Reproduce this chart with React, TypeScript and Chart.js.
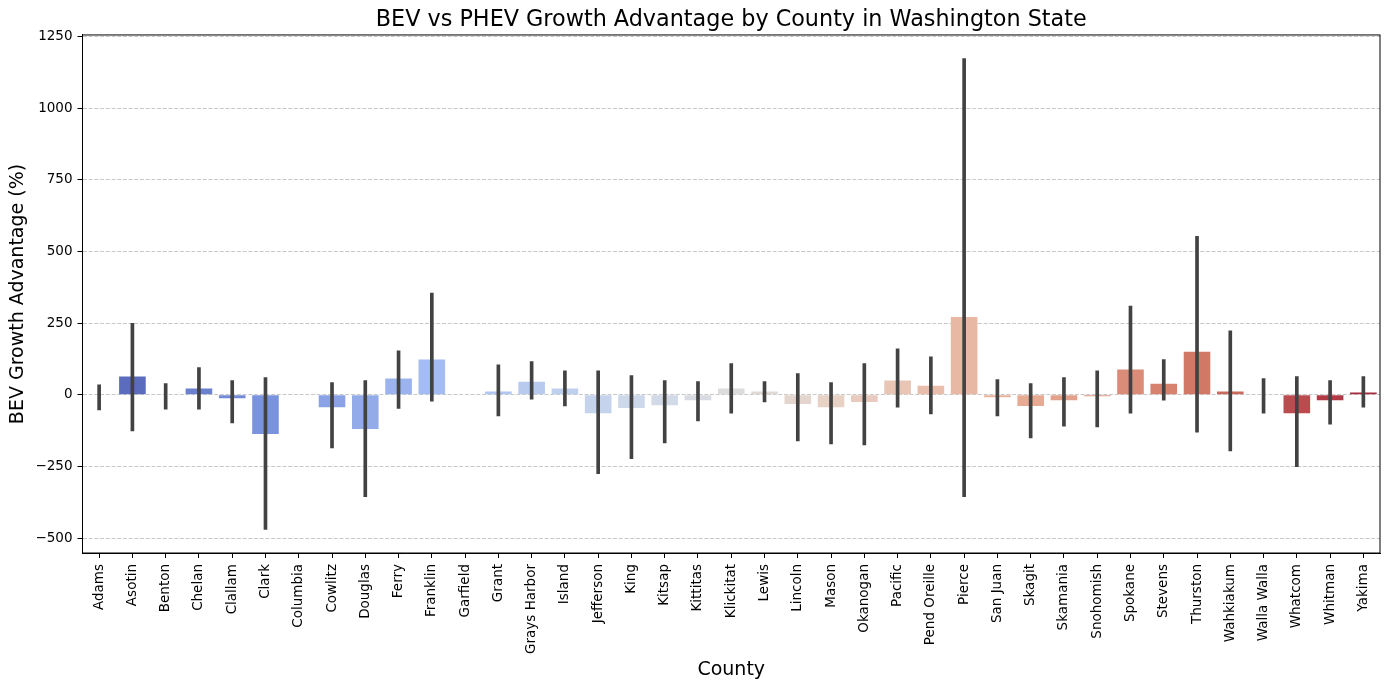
import React, { useEffect, useRef } from "react";
import { Chart, registerables } from "chart.js";

Chart.register(...registerables);

const counties = [
  "Adams", "Asotin", "Benton", "Chelan", "Clallam", "Clark", "Columbia", "Cowlitz", "Douglas", "Ferry",
  "Franklin", "Garfield", "Grant", "Grays Harbor", "Island", "Jefferson", "King", "Kitsap", "Kittitas", "Klickitat",
  "Lewis", "Lincoln", "Mason", "Okanogan", "Pacific", "Pend Oreille", "Pierce", "San Juan", "Skagit", "Skamania",
  "Snohomish", "Spokane", "Stevens", "Thurston", "Wahkiakum", "Walla Walla", "Whatcom", "Whitman", "Yakima",
];

const advantage: (number | null)[] = [
  2, 64, 0, 22, -12, -137, null, -43, -119, 57,
  123, null, 12, 46, 22, -64, -46, -36, -19, 22,
  12, -32, -43, -25, 50, 32, 272, -8, -39, -19,
  -5, 88, 39, 150, 12, 0, -64, -19, 8,
];

const ciLow: (number | null)[] = [
  -53, -126, -50, -50, -98, -470, null, -185, -355, -47,
  -22, null, -74, -15, -39, -275, -223, -168, -91, -64,
  -25, -161, -171, -175, -43, -67, -355, -74, -150, -109,
  -112, -64, -19, -130, -196, -64, -251, -102, -43,
];

const ciHigh: (number | null)[] = [
  35, 250, 39, 95, 50, 60, null, 43, 50, 154,
  355, null, 105, 116, 84, 84, 67, 50, 46, 109,
  46, 74, 43, 109, 161, 133, 1174, 53, 39, 60,
  84, 310, 123, 553, 223, 57, 64, 50, 64,
];

const yTicks = [-500, -250, 0, 250, 500, 750, 1000, 1250];

// coolwarm colormap anchor stops (style)
const cmapStops: [number, [number, number, number]][] = [
  [0.0, [59, 76, 192]],
  [1 / 7, [103, 136, 238]],
  [2 / 7, [154, 187, 255]],
  [3 / 7, [201, 215, 240]],
  [0.5, [221, 221, 221]],
  [4 / 7, [237, 209, 194]],
  [5 / 7, [247, 168, 137]],
  [6 / 7, [226, 105, 82]],
  [1.0, [180, 4, 38]],
];

function cmap(t: number): [number, number, number] {
  for (let i = 0; i < cmapStops.length - 1; i++) {
    const [t0, c0] = cmapStops[i];
    const [t1, c1] = cmapStops[i + 1];
    if (t >= t0 && t <= t1) {
      const f = (t - t0) / (t1 - t0);
      return [0, 1, 2].map((k) => c0[k] + f * (c1[k] - c0[k])) as [number, number, number];
    }
  }
  return cmapStops[cmapStops.length - 1][1];
}

function desaturate([r, g, b]: [number, number, number], prop: number): string {
  const R = r / 255, G = g / 255, B = b / 255;
  const mx = Math.max(R, G, B), mn = Math.min(R, G, B);
  const l = (mx + mn) / 2;
  let h = 0, s = 0;
  if (mx !== mn) {
    const d = mx - mn;
    s = l > 0.5 ? d / (2 - mx - mn) : d / (mx + mn);
    if (mx === R) h = ((G - B) / d + (G < B ? 6 : 0)) / 6;
    else if (mx === G) h = ((B - R) / d + 2) / 6;
    else h = ((R - G) / d + 4) / 6;
  }
  s *= prop;
  const hue2rgb = (p: number, q: number, t: number) => {
    if (t < 0) t += 1;
    if (t > 1) t -= 1;
    if (t < 1 / 6) return p + (q - p) * 6 * t;
    if (t < 1 / 2) return q;
    if (t < 2 / 3) return p + (q - p) * (2 / 3 - t) * 6;
    return p;
  };
  let r2, g2, b2;
  if (s === 0) {
    r2 = g2 = b2 = l;
  } else {
    const q = l < 0.5 ? l * (1 + s) : l + s - l * s;
    const p = 2 * l - q;
    r2 = hue2rgb(p, q, h + 1 / 3);
    g2 = hue2rgb(p, q, h);
    b2 = hue2rgb(p, q, h - 1 / 3);
  }
  return `rgb(${Math.round(r2 * 255)},${Math.round(g2 * 255)},${Math.round(b2 * 255)})`;
}

const FONT = "'DejaVu Sans', sans-serif";

const framePlugin = {
  id: "frame",
  afterDraw(chart: any) {
    const { ctx, chartArea } = chart;
    ctx.save();
    ctx.strokeStyle = "#000";
    ctx.lineWidth = 1;
    ctx.strokeRect(chartArea.left, chartArea.top, chartArea.right - chartArea.left, chartArea.bottom - chartArea.top);
    ctx.restore();
  },
};

export default function App() {
  const ref = useRef<HTMLCanvasElement>(null);

  useEffect(() => {
    document.body.style.margin = "0";
    const n = counties.length;
    const colors = counties.map((_, i) => desaturate(cmap((i + 1) / (n + 1)), 0.75));
    const errData = ciLow.map((lo, i) => (lo == null || ciHigh[i] == null ? null : [lo, ciHigh[i] as number]));

    const chart = new Chart(ref.current!, {
      type: "bar",
      data: {
        labels: counties,
        datasets: [
          {
            label: "CI",
            data: errData as any,
            backgroundColor: "#424242",
            barThickness: 3,
            grouped: false,
            order: 0,
          } as any,
          {
            label: "BEV Growth Advantage",
            data: advantage as any,
            backgroundColor: colors,
            borderWidth: 0,
            barPercentage: 0.8,
            categoryPercentage: 1,
            grouped: false,
            order: 1,
          } as any,
        ],
      },
      options: {
        animation: false,
        responsive: true,
        maintainAspectRatio: false,
        layout: { padding: { left: 0, right: 9, top: 0, bottom: 0 } },
        plugins: {
          legend: { display: false },
          tooltip: { enabled: false },
          title: {
            display: true,
            fullSize: false,
            text: "BEV vs PHEV Growth Advantage by County in Washington State",
            color: "#000",
            font: { family: FONT, size: 22.3, weight: "normal" },
            padding: { top: 6.5, bottom: 1.7 },
          },
        },
        scales: {
          x: {
            type: "category",
            offset: true,
            grid: {
              display: true,
              drawOnChartArea: false,
              drawTicks: true,
              offset: false,
              tickLength: 5,
              tickColor: "#000",
              tickWidth: 1,
            },
            border: { display: true, color: "#000", width: 1 },
            ticks: {
              color: "#000",
              font: { family: FONT, size: 13.5 },
              maxRotation: 90,
              minRotation: 90,
              autoSkip: false,
              padding: 6,
            },
            title: {
              display: true,
              text: "County",
              color: "#000",
              font: { family: FONT, size: 19 },
              padding: { top: 0, bottom: 8.6 },
            },
            afterFit(scale: any) {
              scale.height = 137;
            },
          },
          y: {
            type: "linear",
            min: -552,
            max: 1256,
            afterBuildTicks(scale: any) {
              scale.ticks = yTicks.map((v) => ({ value: v }));
            },
            grid: {
              display: true,
              color: "rgba(176,176,176,0.7)",
              lineWidth: 1,
              drawTicks: true,
              tickLength: 5,
              tickColor: "#000",
              tickBorderDash: [],
              tickWidth: 1,
            },
            border: { display: true, color: "#000", width: 1, dash: [4, 1.7] },
            ticks: {
              color: "#000",
              font: { family: FONT, size: 13.5 },
              padding: 5,
              callback: (v: any) => String(v).replace("-", "\u2212"),
            },
            title: {
              display: true,
              text: "BEV Growth Advantage (%)",
              color: "#000",
              font: { family: FONT, size: 19 },
              padding: { top: 6.6, bottom: 0 },
            },
            afterFit(scale: any) {
              scale.width = 82.5;
            },
          },
        },
      },
      plugins: [framePlugin],
    });
    return () => chart.destroy();
  }, []);

  return (
    <div style={{ position: "absolute", left: 0, top: 0, width: 1389, height: 690 }}>
      <canvas ref={ref} />
    </div>
  );
}
